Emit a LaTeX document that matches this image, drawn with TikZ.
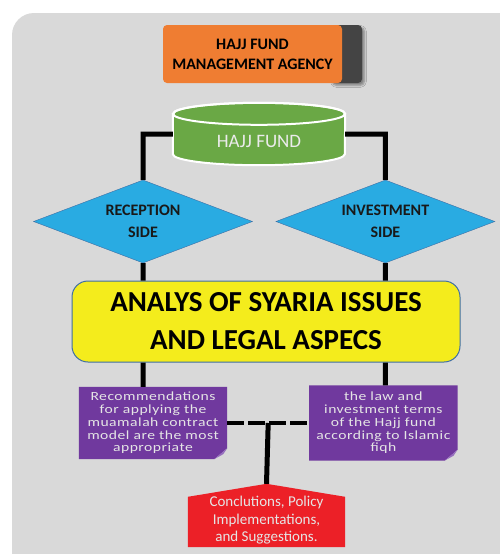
\documentclass[tikz,border=0pt]{standalone}
\usepackage{fontspec}
\setmainfont{Carlito}
\newfontfamily\widefont[FakeStretch=1.25,LetterSpace=4]{Carlito}
\usetikzlibrary{shapes,arrows,fit,positioning,calc,shadows.blur}
\definecolor{bggray}{RGB}{217,217,217}
\definecolor{agencyorange}{RGB}{239,125,50}
\definecolor{stripgray}{RGB}{68,68,68}
\definecolor{fundgreen}{RGB}{106,168,69}
\definecolor{sideblue}{RGB}{41,171,226}
\definecolor{edgeblue}{RGB}{62,110,165}
\definecolor{issueyellow}{RGB}{244,236,28}
\definecolor{notepurple}{RGB}{112,57,158}
\definecolor{foldpurple}{RGB}{150,110,190}
\definecolor{concred}{RGB}{236,32,39}
\def\Agency{HAJJ FUND\\MANAGEMENT AGENCY}
\def\Fund{HAJJ FUND}

\begin{document}
\begin{tikzpicture}[x=1pt,y=1pt,% every length in px of the reference
			every node/.style={
				align=center,		% so that "\\" breaks lines
				inner sep=0pt
			},
			agencybox/.style={rectangle,rounded corners=4pt,fill=agencyorange,
				minimum width=179pt,minimum height=58pt,
				font=\bfseries\fontsize{16}{20}\selectfont},
			sidebox/.style={diamond,aspect=2.6,fill=sideblue,draw=edgeblue,
				minimum width=219pt,minimum height=83pt,
				font=\bfseries\fontsize{16}{22}\selectfont,text=black!90},
			issuebox/.style={rectangle,rounded corners=16pt,fill=issueyellow,
				draw=edgeblue,line width=1pt,minimum width=388pt,minimum height=81pt,
				font=\bfseries\fontsize{29}{38}\selectfont},
			notebox/.style={rectangle,minimum width=148pt,minimum height=72pt,
				font=\widefont\fontsize{12.5}{12.7}\selectfont,text=white!90!black},
			link/.style={draw,line width=5pt},
			dashlink/.style={draw,line width=4pt,dash pattern=on 17pt off 4pt}
		]
		\useasboundingbox (0,0) rectangle (500,-554);
		\clip (0,0) rectangle (500,-554);
		\fill[bggray,rounded corners=22pt] (12,-13) rectangle (540,-600);

		% top agency box with its dark right strip
		\fill[stripgray,rounded corners=4pt,blur shadow={shadow blur steps=6}] (330,-25) rectangle (362,-83);
		\node[agencybox](agency) at (252.5,-54) {\Agency};

		% hajj fund cylinder
		\node[minimum width=172pt,minimum height=62pt](fund) at (259,-134) {};
		\path[fill=fundgreen,draw=white,line width=2pt]
			([yshift=-11pt]fund.north west) -- ([yshift=11pt]fund.south west)
			arc[start angle=180,end angle=360,x radius=86pt,y radius=11pt]
			-- ([yshift=-11pt]fund.north east)
			arc[start angle=0,end angle=180,x radius=86pt,y radius=11pt] -- cycle;
		\draw[white,line width=2pt] ([yshift=-11pt]fund.north) ellipse[x radius=86pt,y radius=11pt];
		\node[text=white!92!black,font=\fontsize{19}{20}\selectfont] at ([yshift=-7pt]fund) {\Fund};

		% two sides
		\node[sidebox](reception) at (143,-221.5) {RECEPTION\\SIDE};
		\node[sidebox](investment)[right=23pt of reception] {INVESTMENT\\SIDE};

		% analysis
		\node[issuebox](analysis) at (266,-321.5) {ANALYS OF SYARIA ISSUES\\AND LEGAL ASPECS};

		% two notes
		\node[notebox](recom) at (153,-423) {};
		\node[notebox,minimum height=75pt](terms)[right=82pt of recom] {};
		\foreach \n in {recom,terms}{
			\fill[notepurple] (\n.north west) -- (\n.north east) -- ([yshift=11pt]\n.south east)
				-- ([xshift=-13pt]\n.south east) -- (\n.south west) -- cycle;
			\fill[foldpurple] ([yshift=11pt]\n.south east) -- ([xshift=-13pt]\n.south east)
				-- ([xshift=-4pt,yshift=5pt]\n.south east) -- cycle;
		}
		\node[notebox] at (recom) {Recommendations\\for applying the\\muamalah contract\\model are the most\\appropriate};
		\node[notebox] at (terms) {the law and\\investment terms\\of the Hajj fund\\according to Islamic\\fiqh};

		% conclusion
		\node[minimum width=157pt,minimum height=50pt](conc) at (266.5,-522) {};
		\coordinate (peak) at ([yshift=13pt]conc.north);
		\fill[concred] (conc.south west) -- (conc.north west) -- (peak) -- (conc.north east)
			-- (conc.south east) -- cycle;
		\node[text=white!90!black,font=\fontsize{15}{17.5}\selectfont] at ([yshift=1.5pt]conc)
			{Conclutions, Policy\\Implementations,\\and Suggestions.};

		% connectors
		\coordinate (mid) at ($(recom.east)!0.5!(terms.west)$);
		\path[link]
		(fund.west) -| (reception.north)
		(fund.east) -| (investment.north)
		(reception.south) -- (reception.south |- analysis.north)
		(investment.south) -- (investment.south |- analysis.north)
		(reception.south |- analysis.south) -- (reception.south |- recom.north)
		(investment.south |- analysis.south) -- (investment.south |- terms.north)
		(mid) -- (peak)
		;
		\path[dashlink] (recom.east) -- (terms.west);
	\end{tikzpicture}
\end{document}
